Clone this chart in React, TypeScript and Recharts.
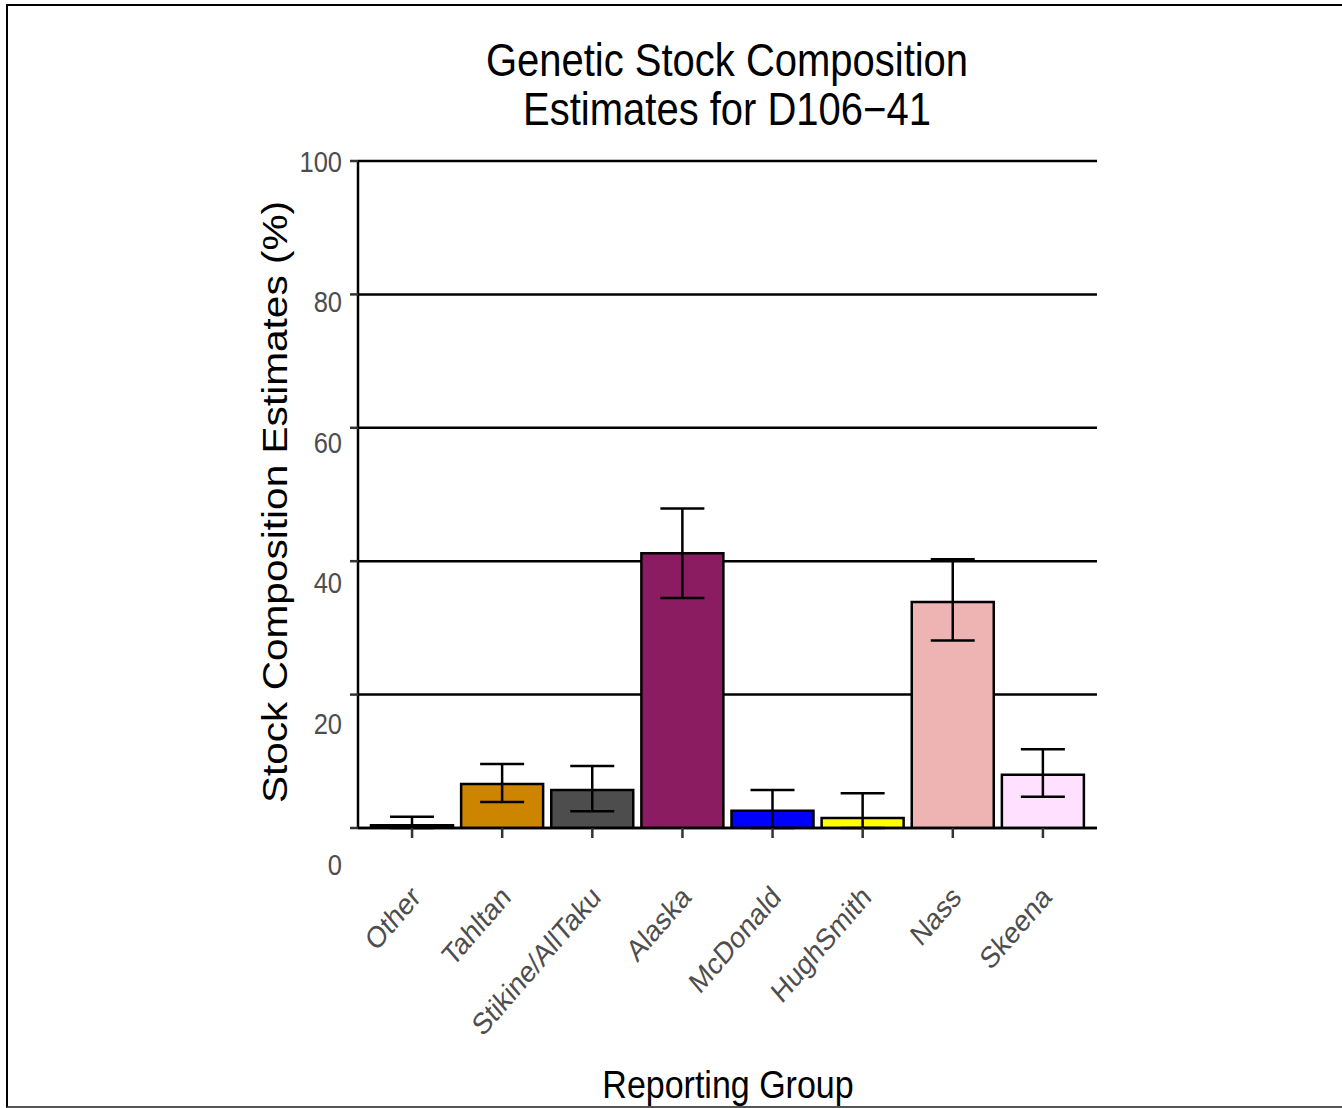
import { Bar, BarChart, CartesianGrid, Cell, ErrorBar, XAxis, YAxis } from 'recharts';

const groups = ['Other', 'Tahltan', 'Stikine/AllTaku', 'Alaska', 'McDonald', 'HughSmith', 'Nass', 'Skeena'];
const estimates = [0.4, 6.6, 5.7, 41.2, 2.6, 1.5, 33.9, 8.0];
const lower = [0, 3.9, 2.5, 34.5, 0, 0, 28.1, 4.7];
const upper = [1.7, 9.6, 9.3, 47.9, 5.7, 5.2, 40.3, 11.8];
const fills = ['#000000', '#CD8500', '#4D4D4D', '#8B1C62', '#0000FF', '#FFFF00', '#EEB4B4', '#FFE1FF'];
const yTicks = [0, 20, 40, 60, 80, 100];

const data = groups.map((g, i) => ({
  group: g,
  estimate: estimates[i],
  err: [estimates[i] - lower[i], upper[i] - estimates[i]],
}));

const W = 1342;
const H = 1108;
const FONT = "'Liberation Sans', Arial, sans-serif";
// the original's text is drawn a bit taller than wide
const STRETCH = 1.16;

function YTick(props: any) {
  const { y, payload } = props;
  // label offsets drift downward toward zero, as in the original
  const off = (100 - payload.value) * 0.36;
  return (
    <text
      transform={`translate(342,${y + off}) scale(1,${STRETCH})`}
      dy="0.36em"
      textAnchor="end"
      fill="#4D4D4D"
      fontSize={25.5}
      fontFamily={FONT}
    >
      {payload.value}
    </text>
  );
}

function XTick(props: any) {
  const { x, payload } = props;
  return (
    <text
      transform={`translate(${x + 10},${899}) scale(1,${STRETCH}) rotate(-45)`}
      textAnchor="end"
      fill="#4D4D4D"
      fontSize={26}
      fontFamily={FONT}
    >
      {payload.value}
    </text>
  );
}

export default function App() {
  return (
    <div style={{ position: 'fixed', left: 0, top: 0, width: W, height: H, overflow: 'hidden', background: '#fff' }}>
      <div
        style={{
          position: 'absolute',
          left: 6,
          top: 4,
          width: 1345,
          height: 1104,
          borderLeft: '2px solid #000',
          borderTop: '2px solid #000',
          borderBottom: '2px solid #555',
          boxSizing: 'border-box',
        }}
      />
      <div style={{ position: 'absolute', left: 0, top: 0 }}>
        <BarChart
          width={W}
          height={H}
          data={data}
          margin={{ top: 161, right: 245, bottom: 250, left: 298 }}
          barCategoryGap={0}
        >
          <CartesianGrid vertical={false} stroke="#000" strokeWidth={2.5} />
          <XAxis
            dataKey="group"
            height={30}
            padding={{ left: 9, right: 9 }}
            interval={0}
            tickSize={10}
            tickLine={{ stroke: '#333', strokeWidth: 2.5 }}
            axisLine={{ stroke: '#000', strokeWidth: 2.5 }}
            tick={<XTick />}
          />
          <YAxis
            width={60}
            domain={[0, 100]}
            ticks={yTicks}
            allowDataOverflow
            tickSize={8}
            tickLine={{ stroke: '#333', strokeWidth: 2.5 }}
            axisLine={{ stroke: '#000', strokeWidth: 2.5 }}
            tick={<YTick />}
          />
          <Bar dataKey="estimate" barSize={82} stroke="#000" strokeWidth={2.5} isAnimationActive={false}>
            {data.map((d, i) => (
              <Cell key={d.group} fill={fills[i]} />
            ))}
            <ErrorBar dataKey="err" width={22} stroke="#000" strokeWidth={2.5} direction="y" />
          </Bar>
        </BarChart>
      </div>
      <svg width={W} height={H} style={{ position: 'absolute', left: 0, top: 0, pointerEvents: 'none' }}>
        <g fontFamily={FONT} fill="#000">
          <text transform={`translate(727,76) scale(1,${STRETCH})`} textAnchor="middle" fontSize={40}>
            Genetic Stock Composition
          </text>
          <text transform={`translate(727,125) scale(1,${STRETCH})`} textAnchor="middle" fontSize={40}>
            Estimates for D106−41
          </text>
          <text transform={`translate(287,502) scale(1,${STRETCH}) rotate(-90)`} textAnchor="middle" fontSize={35}>
            Stock Composition Estimates (%)
          </text>
          <text transform={`translate(728,1098) scale(1,${STRETCH})`} textAnchor="middle" fontSize={34}>
            Reporting Group
          </text>
        </g>
      </svg>
    </div>
  );
}
